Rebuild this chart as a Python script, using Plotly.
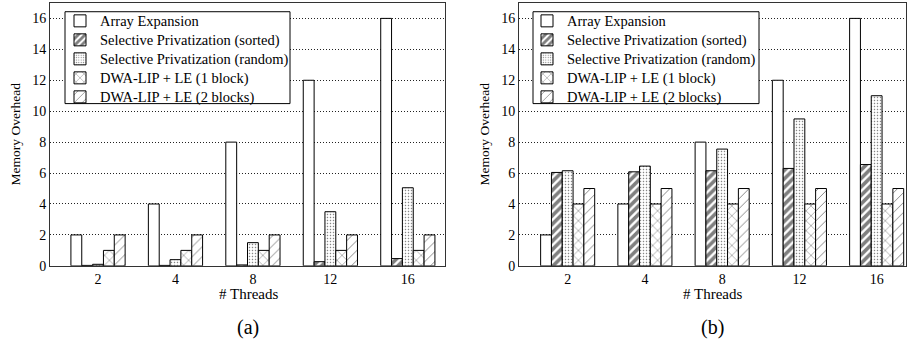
import plotly.graph_objects as go

threads = ["2", "4", "8", "12", "16"]
series_names = [
    "Array Expansion",
    "Selective Privatization (sorted)",
    "Selective Privatization (random)",
    "DWA-LIP + LE (1 block)",
    "DWA-LIP + LE (2 blocks)",
]
# (a)
a_array = [2, 4, 8, 12, 16]
a_sorted = [0.03, 0.03, 0.06, 0.27, 0.47]
a_random = [0.1, 0.4, 1.5, 3.5, 5.05]
a_one = [1, 1, 1, 1, 1]
a_two = [2, 2, 2, 2, 2]
# (b)
b_array = [2, 4, 8, 12, 16]
b_sorted = [6.04, 6.08, 6.15, 6.3, 6.55]
b_random = [6.15, 6.45, 7.55, 9.5, 11.0]
b_one = [4, 4, 4, 4, 4]
b_two = [5, 5, 5, 5, 5]

patterns = [
    dict(shape=""),
    dict(shape="/", size=6, solidity=0.6, fgcolor="black", bgcolor="white"),
    dict(shape=".", size=3, solidity=0.2, fgcolor="black", bgcolor="white"),
    dict(shape="x", size=7, solidity=0.16, fgcolor="black", bgcolor="white"),
    dict(shape="/", size=7, solidity=0.13, fgcolor="black", bgcolor="white"),
]

FONT = "Liberation Serif"
H = 354.0
W = 907.0
fig = go.Figure()

for data, xa, ya, lg in [
    ([a_array, a_sorted, a_random, a_one, a_two], "x", "y", "legend"),
    ([b_array, b_sorted, b_random, b_one, b_two], "x2", "y2", "legend2"),
]:
    for name, vals, pat in zip(series_names, data, patterns):
        fig.add_trace(go.Bar(
            x=threads, y=vals,
            name='<span style="font-size:14.5px">' + name + '</span>',
            xaxis=xa, yaxis=ya, legend=lg,
            marker=dict(color="white", line=dict(color="black", width=1), pattern=pat),
        ))

ax_common = dict(
    showline=True, linecolor="#333", linewidth=1, mirror=True,
    ticks="", tickfont=dict(family=FONT, size=14, color="black"),
)
ycommon = dict(ax_common, range=[0, 17], tickvals=[0, 2, 4, 6, 8, 10, 12, 14, 16],
               showgrid=True, gridcolor="#222", griddash="1px,2px", gridwidth=1,
               zeroline=False)

ydom = [1 - 272 / H, 1 - 3 / H]
legend_common = dict(y=1 - 6.5 / H, xanchor="left", yanchor="top",
                     borderwidth=0, bgcolor="rgba(0,0,0,0)",
                     font=dict(family=FONT, size=12, color="black"), tracegroupgap=0)
fig.update_layout(
    width=907, height=354, margin=dict(l=0, r=0, t=0, b=0),
    paper_bgcolor="white", plot_bgcolor="white",
    barmode="group", bargap=0.30, bargroupgap=0,
    xaxis=dict(ax_common, domain=[50 / W, 445 / W], range=[-0.62, 4.48], type="category"),
    xaxis2=dict(ax_common, domain=[519 / W, 906 / W], range=[-0.63, 4.38], type="category"),
    yaxis=dict(ycommon, domain=ydom, anchor="x"),
    yaxis2=dict(ycommon, domain=ydom, anchor="x2"),
    legend=dict(legend_common, x=60 / W),
    legend2=dict(legend_common, x=527 / W),
    showlegend=True,
)

# legend frames
for x0, x1 in [(65, 290), (533, 759)]:
    fig.add_shape(type="rect", xref="paper", yref="paper",
                  x0=x0 / W, x1=x1 / W, y0=1 - 106 / H, y1=1 - 12 / H,
                  fillcolor="white", line=dict(color="black", width=1), layer="above")

annots = [
    dict(text="Memory Overhead", x=15 / W, y=1 - 137.5 / H, textangle=-90, size=13.5),
    dict(text="Memory Overhead", x=484 / W, y=1 - 137.5 / H, textangle=-90, size=13.5),
    dict(text="# Threads", x=248 / W, y=1 - 301 / H, textangle=0, size=15),
    dict(text="# Threads", x=712 / W, y=1 - 301 / H, textangle=0, size=15),
    dict(text="(a)", x=248 / W, y=1 - 335 / H, textangle=0, size=20),
    dict(text="(b)", x=712 / W, y=1 - 335 / H, textangle=0, size=20),
]
for a in annots:
    fig.add_annotation(text=a["text"], x=a["x"], y=a["y"], xref="paper", yref="paper",
                       showarrow=False, textangle=a["textangle"],
                       xanchor="center", yanchor="middle",
                       font=dict(family=FONT, size=a["size"], color="black"))

fig.write_html("out.html")
